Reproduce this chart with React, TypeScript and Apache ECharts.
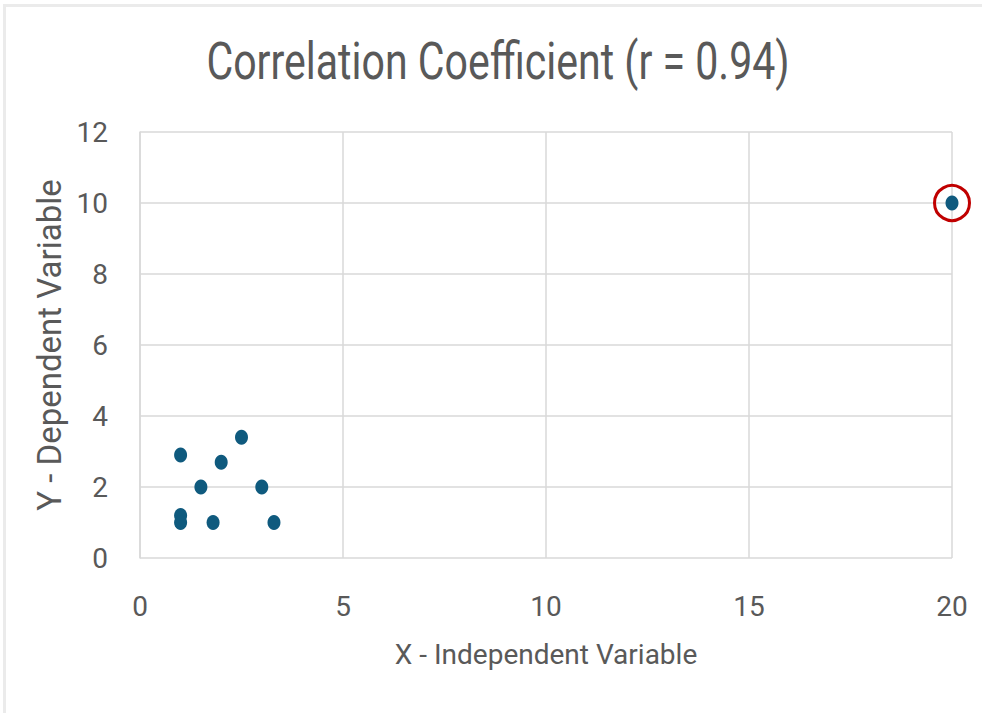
import React, { useEffect, useRef } from "react";
import * as echarts from "echarts";

const titleText = "Correlation Coefficient (r = 0.94)";
const xAxisName = "X - Independent Variable";
const yAxisName = "Y - Dependent Variable";
const xValues = [1, 1, 1, 1.5, 1.8, 2, 2.5, 3, 3.3, 20];
const yValues = [2.9, 1.2, 1.0, 2.0, 1.0, 2.7, 3.4, 2.0, 1.0, 10];
const outlierX = [20];
const outlierY = [10];

const font = "Roboto, 'Noto Sans', sans-serif";
const textColor = "#595959";

export default function App() {
  const ref = useRef<HTMLDivElement>(null);
  useEffect(() => {
    if (!ref.current) return;
    const chart = echarts.init(ref.current, undefined, { renderer: "svg" });
    chart.setOption({
      animation: false,
      backgroundColor: "#ffffff",
      graphic: [
        { type: "rect", shape: { x: 3, y: 4, width: 979, height: 3 }, style: { fill: "#ebebeb" } },
        { type: "rect", shape: { x: 3, y: 4, width: 3, height: 709 }, style: { fill: "#ebebeb" } },
        {
          type: "text",
          x: 498,
          y: 61,
          scaleX: 0.79,
          style: {
            text: titleText,
            fontFamily: font,
            fontSize: 52,
            fill: textColor,
            align: "center",
            verticalAlign: "middle",
          },
        },
      ],
      grid: { left: 140, right: 30, top: 132, bottom: 155, containLabel: false },
      xAxis: {
        type: "value",
        min: 0,
        max: 20,
        interval: 5,
        name: xAxisName,
        nameLocation: "middle",
        nameGap: 82,
        nameTextStyle: { fontFamily: font, fontSize: 28, color: textColor },
        axisLine: { show: false },
        axisTick: { show: false },
        axisLabel: { fontFamily: font, fontSize: 28, color: textColor, margin: 34 },
        splitLine: { show: true, lineStyle: { color: "#d9d9d9", width: 1.5 } },
      },
      yAxis: {
        type: "value",
        min: 0,
        max: 12,
        interval: 2,
        name: yAxisName,
        nameLocation: "middle",
        nameGap: 66,
        nameTextStyle: { fontFamily: font, fontSize: 33, color: textColor },
        axisLine: { show: true, lineStyle: { color: "#d9d9d9", width: 1.5 } },
        axisTick: { show: false },
        axisLabel: { fontFamily: font, fontSize: 28, color: textColor, margin: 32 },
        splitLine: { show: true, lineStyle: { color: "#d9d9d9", width: 1.5 } },
      },
      series: [
        {
          type: "scatter",
          data: xValues.map((x, i) => [x, yValues[i]]),
          symbol: "circle",
          symbolSize: [13, 15],
          itemStyle: { color: "#0f5a7e", opacity: 1 },
          z: 3,
        },
        {
          type: "scatter",
          data: outlierX.map((x, i) => [x, outlierY[i]]),
          symbol: "circle",
          symbolSize: 35,
          itemStyle: { color: "rgba(0,0,0,0)", borderColor: "#c00000", borderWidth: 3, opacity: 1 },
          z: 4,
          silent: true,
        },
      ],
    });
    return () => chart.dispose();
  }, []);
  return (
    <div
      ref={ref}
      style={{ position: "fixed", left: 0, top: 0, width: 982, height: 713 }}
    />
  );
}
